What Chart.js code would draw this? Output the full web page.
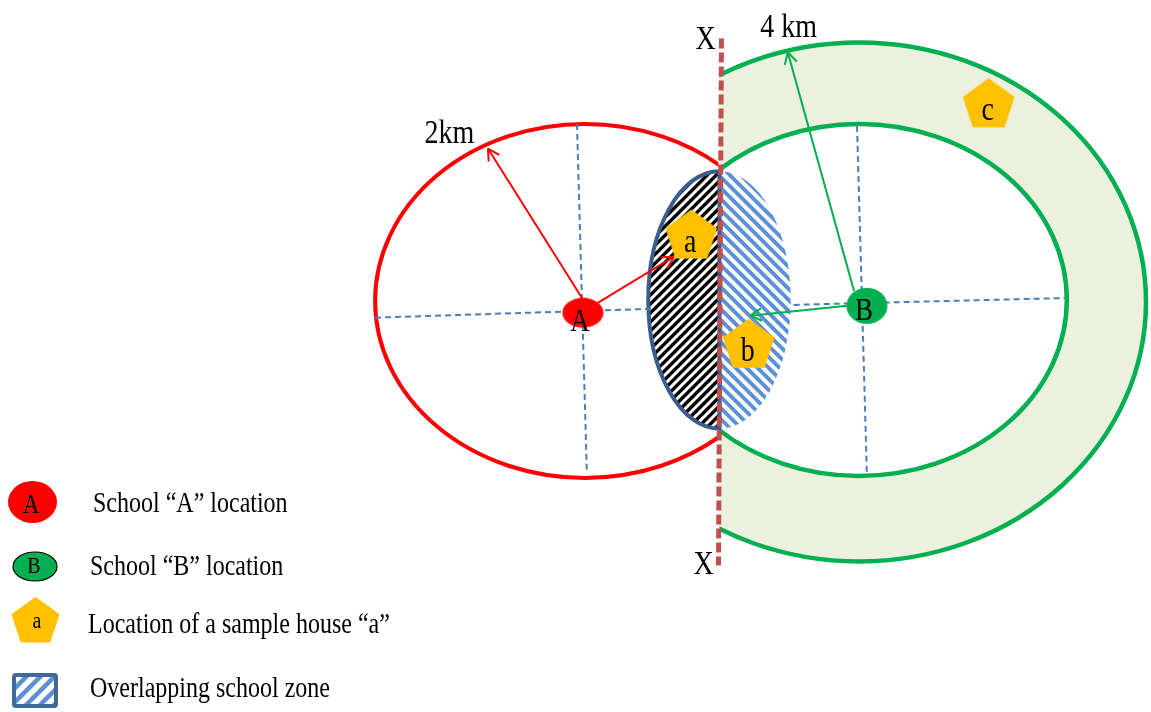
<!DOCTYPE html>
<html>
<head>
<meta charset="utf-8">
<title>School zones</title>
<script src="https://cdn.jsdelivr.net/npm/chart.js@4.4.1/dist/chart.umd.min.js"></script>
<style>
  html, body { margin: 0; padding: 0; background: #fff; }
  #wrap { width: 1151px; height: 712px; }
</style>
</head>
<body>
<div id="wrap"><canvas id="zoneChart" width="1151" height="712"></canvas></div>
<script>
// map units: the figure is laid out on a 1151 x 712 grid
const schoolNames = ['A', 'B'];
const schoolX = [583, 870];
const schoolY = [312, 305];

// zones: A 2 km, B inner 2 km, B outer 4 km
const zoneX = [585, 862, 862];
const zoneY = [300, 299, 301];
const zoneRX = [212, 210, 290];
const zoneRY = [180, 179, 264];

// overlap lens (centre x, centre y, rx, ry)
const overlap = [721, 299, 72, 131];

const houseNames = ['a', 'b', 'c'];
const houseX = [692.5, 750.5, 993];
const houseY = [232.5, 343.5, 99];

// radius arrows
const arrowFromX = [584, 598, 857, 850];
const arrowFromY = [300, 302, 290, 305];
const arrowToX = [487, 675, 790, 752];
const arrowToY = [145, 255, 47, 315];

const distLabels = ['2km', '4 km'];
const distX = [448, 791];
const distY = [139, 32];

// dashed cross lines through each zone
const axisFromX = [577, 373, 860, 796];
const axisFromY = [120, 317, 122, 304];
const axisToX = [587, 652, 870, 1070];
const axisToY = [476, 308, 478, 297];

// X-X boundary line
const dividerX = [723, 720];
const dividerY = [33, 569];
const dividerLabelX = [707, 705];
const dividerLabelY = [44, 578];

const legendLabels = ['School \u201cA\u201d location', 'School \u201cB\u201d location',
  'Location of a sample house \u201ca\u201d', 'Overlapping school zone'];

const RED = '#ff0000', GREEN = '#00b050', GOLD = '#ffc000';
const SERIF = '"Liberation Serif", "DejaVu Serif", serif';
const STRETCH = 1.2; // text in the figure is taller than wide

function ellipseCanvas(rx, ry, fill, stroke) {
  const c = document.createElement('canvas');
  c.width = Math.ceil(rx * 2 + 4); c.height = Math.ceil(ry * 2 + 4);
  const g = c.getContext('2d');
  g.beginPath();
  g.ellipse(c.width / 2, c.height / 2, rx, ry, 0, 0, Math.PI * 2);
  g.fillStyle = fill; g.fill();
  if (stroke) { g.lineWidth = 1.2; g.strokeStyle = stroke; g.stroke(); }
  return c;
}

function pentagonPath(g, cx, cy, r) {
  g.beginPath();
  for (let i = 0; i < 5; i++) {
    const a = -Math.PI / 2 + i * 2 * Math.PI / 5;
    const px = cx + r * Math.cos(a), py = cy + r * Math.sin(a);
    if (i === 0) g.moveTo(px, py); else g.lineTo(px, py);
  }
  g.closePath();
}

function pentagonCanvas(r, fill) {
  const c = document.createElement('canvas');
  c.width = Math.ceil(r * 2 + 6); c.height = Math.ceil(r * 2 + 6);
  const g = c.getContext('2d');
  pentagonPath(g, c.width / 2, c.height / 2 + 2, r);
  g.fillStyle = fill; g.fill();
  g.lineJoin = 'round'; g.lineWidth = 2; g.strokeStyle = fill; g.stroke();
  return c;
}

function stretchText(ctx, text, x, y, size, align) {
  ctx.save();
  ctx.translate(x, y);
  ctx.scale(1, STRETCH);
  ctx.font = size + 'px ' + SERIF;
  ctx.textAlign = align || 'center';
  ctx.textBaseline = 'alphabetic';
  ctx.fillStyle = '#000';
  ctx.fillText(text, 0, 0);
  ctx.restore();
}

function stripes(ctx, x0, y0, x1, y1, step, rising, color, width) {
  const h = y1 - y0;
  ctx.beginPath();
  for (let t = x0 - h; t <= x1 + h; t += step) {
    if (rising) { ctx.moveTo(t, y1); ctx.lineTo(t + h, y0); }
    else { ctx.moveTo(t, y0); ctx.lineTo(t + h, y1); }
  }
  ctx.strokeStyle = color; ctx.lineWidth = width; ctx.stroke();
}

const zonePlugin = {
  id: 'zones',
  beforeDatasetsDraw(chart) {
    const { ctx, scales: { x, y } } = chart;
    const W = chart.width, H = chart.height;
    const sx = v => x.getPixelForValue(v), sy = v => y.getPixelForValue(v);
    const dx = r => Math.abs(sx(r) - sx(0)), dy = r => Math.abs(sy(r) - sy(0));
    const split = sx((dividerX[0] + dividerX[1]) / 2) - 0.5;
    const zonePath = i => {
      ctx.beginPath();
      ctx.ellipse(sx(zoneX[i]), sy(zoneY[i]), dx(zoneRX[i]), dy(zoneRY[i]), 0, 0, Math.PI * 2);
    };

    // school B: ring fill and outlines, right of the boundary
    ctx.save();
    ctx.beginPath(); ctx.rect(split, 0, W - split, H); ctx.clip();
    zonePath(2); ctx.fillStyle = '#ebf1de'; ctx.fill();
    zonePath(1); ctx.fillStyle = '#ffffff'; ctx.fill();
    ctx.lineWidth = 4.5; ctx.strokeStyle = GREEN;
    zonePath(2); ctx.stroke();
    zonePath(1); ctx.stroke();
    ctx.restore();

    // school A outline, left of the boundary
    ctx.save();
    ctx.beginPath(); ctx.rect(0, 0, split - 1, H); ctx.clip();
    ctx.lineWidth = 4; ctx.strokeStyle = RED;
    zonePath(0); ctx.stroke();
    ctx.restore();

    // overlapping zone
    const cx = sx(overlap[0]), cy = sy(overlap[1]), rx = dx(overlap[2]), ry = dy(overlap[3]);
    ctx.save();
    ctx.beginPath(); ctx.ellipse(cx, cy, rx, ry, 0, 0, Math.PI * 2); ctx.clip();
    ctx.fillStyle = '#fff';
    ctx.fillRect(cx - rx, cy - ry, rx * 2, ry * 2);
    ctx.save();
    ctx.beginPath(); ctx.rect(cx - rx - 2, cy - ry - 2, rx + 2, ry * 2 + 4); ctx.clip();
    stripes(ctx, cx - rx, cy - ry, cx, cy + ry, 9, true, '#000', 3.4);
    ctx.restore();
    ctx.beginPath(); ctx.rect(cx, cy - ry - 2, rx + 2, ry * 2 + 4); ctx.clip();
    stripes(ctx, cx, cy - ry, cx + rx, cy + ry, 11, false, '#5b8fd6', 3.8);
    ctx.restore();

    ctx.save();
    ctx.beginPath();
    ctx.ellipse(cx, cy, rx, ry, 0, Math.PI / 2, Math.PI * 1.5);
    ctx.closePath();
    ctx.lineWidth = 4; ctx.strokeStyle = '#3a5d8c'; ctx.lineJoin = 'round';
    ctx.stroke();
    ctx.restore();
  },
  afterDatasetsDraw(chart) {
    const { ctx, scales: { x, y } } = chart;
    const sx = v => x.getPixelForValue(v), sy = v => y.getPixelForValue(v);

    // arrow heads
    arrowToX.forEach((tx, i) => {
      const x1 = sx(tx), y1 = sy(arrowToY[i]);
      const a = Math.atan2(y1 - sy(arrowFromY[i]), x1 - sx(arrowFromX[i]));
      ctx.save();
      ctx.beginPath();
      [0.5, -0.5].forEach(d => {
        ctx.moveTo(x1, y1);
        ctx.lineTo(x1 - 13 * Math.cos(a + d), y1 - 13 * Math.sin(a + d));
      });
      ctx.strokeStyle = i < 2 ? RED : GREEN; ctx.lineWidth = 2;
      ctx.stroke();
      ctx.restore();
    });

    // labels
    schoolNames.forEach((n, i) => stretchText(ctx, n, sx(schoolX[i]) - 3, sy(schoolY[i]) + (i ? 14 : 18), 27));
    houseNames.forEach((n, i) => stretchText(ctx, n, sx(houseX[i]) - 1, sy(houseY[i]) + 17, 28));
    distLabels.forEach((t, i) => stretchText(ctx, t, sx(distX[i]), sy(distY[i]), 28));
    dividerLabelX.forEach((lx, i) => stretchText(ctx, 'X', sx(lx), sy(dividerLabelY[i]), 28));

    // legend symbols
    ctx.save();
    ctx.beginPath(); ctx.ellipse(32.5, 502, 24.5, 21, 0, 0, Math.PI * 2);
    ctx.fillStyle = RED; ctx.fill();
    ctx.beginPath(); ctx.ellipse(35, 566.5, 22, 14.5, 0, 0, Math.PI * 2);
    ctx.fillStyle = GREEN; ctx.fill();
    ctx.lineWidth = 1.2; ctx.strokeStyle = '#000'; ctx.stroke();
    pentagonPath(ctx, 35.5, 622, 24);
    ctx.fillStyle = GOLD; ctx.fill();
    ctx.lineJoin = 'round'; ctx.lineWidth = 2; ctx.strokeStyle = GOLD; ctx.stroke();
    ctx.restore();
    stretchText(ctx, 'A', 31, 513, 23);
    stretchText(ctx, 'B', 34, 573, 20);
    stretchText(ctx, 'a', 37, 628, 20);

    const box = () => { ctx.beginPath(); ctx.roundRect(14, 675, 42, 31, 2); };
    ctx.save();
    box(); ctx.fillStyle = '#fff'; ctx.fill();
    ctx.save(); box(); ctx.clip();
    stripes(ctx, 14, 675, 56, 706, 14, true, '#5b8fd6', 4.5);
    ctx.restore();
    box(); ctx.lineWidth = 4; ctx.strokeStyle = '#41679b'; ctx.stroke();
    ctx.restore();

    const tx = [93, 90, 88, 90], ty = [512, 575, 633, 697];
    legendLabels.forEach((t, i) => stretchText(ctx, t, tx[i], ty[i], 24, 'left'));
  }
};

const segment = (x0, y0, x1, y1) => [{ x: x0, y: y0 }, { x: x1, y: y1 }];
const datasets = [];

// house markers (on top)
datasets.push({
  data: houseX.map((hx, i) => ({ x: hx, y: houseY[i] })),
  pointStyle: houseX.map(() => pentagonCanvas(26, GOLD)),
  pointRadius: 5, order: 0
});
// school markers
datasets.push({
  data: schoolX.map((s, i) => ({ x: s, y: schoolY[i] })),
  pointStyle: [ellipseCanvas(20.5, 15, RED), ellipseCanvas(20.5, 18, GREEN)],
  pointRadius: 5, order: 1
});
// arrows
arrowFromX.forEach((fx, i) => datasets.push({
  data: segment(fx, arrowFromY[i], arrowToX[i], arrowToY[i]),
  showLine: true, pointRadius: 0, borderWidth: 2,
  borderColor: i < 2 ? RED : GREEN, order: 2
}));
// boundary X-X
datasets.push({
  data: segment(dividerX[0], dividerY[0], dividerX[1], dividerY[1]),
  showLine: true, pointRadius: 0, borderWidth: 5, borderDash: [10, 4],
  borderColor: '#c0504d', order: 3
});
// dashed cross lines
axisFromX.forEach((fx, i) => datasets.push({
  data: segment(fx, axisFromY[i], axisToX[i], axisToY[i]),
  showLine: true, pointRadius: 0, borderWidth: 2, borderDash: [6, 4],
  borderColor: '#4a7ebb', order: 4
}));

new Chart(document.getElementById('zoneChart').getContext('2d'), {
  type: 'scatter',
  data: { datasets },
  options: {
    responsive: false,
    animation: false,
    events: [],
    layout: { padding: 0 },
    plugins: { legend: { display: false }, tooltip: { enabled: false } },
    scales: {
      x: { type: 'linear', min: 0, max: 1151, display: false },
      y: { type: 'linear', min: 0, max: 712, reverse: true, display: false }
    }
  },
  plugins: [zonePlugin]
});
</script>
</body>
</html>
